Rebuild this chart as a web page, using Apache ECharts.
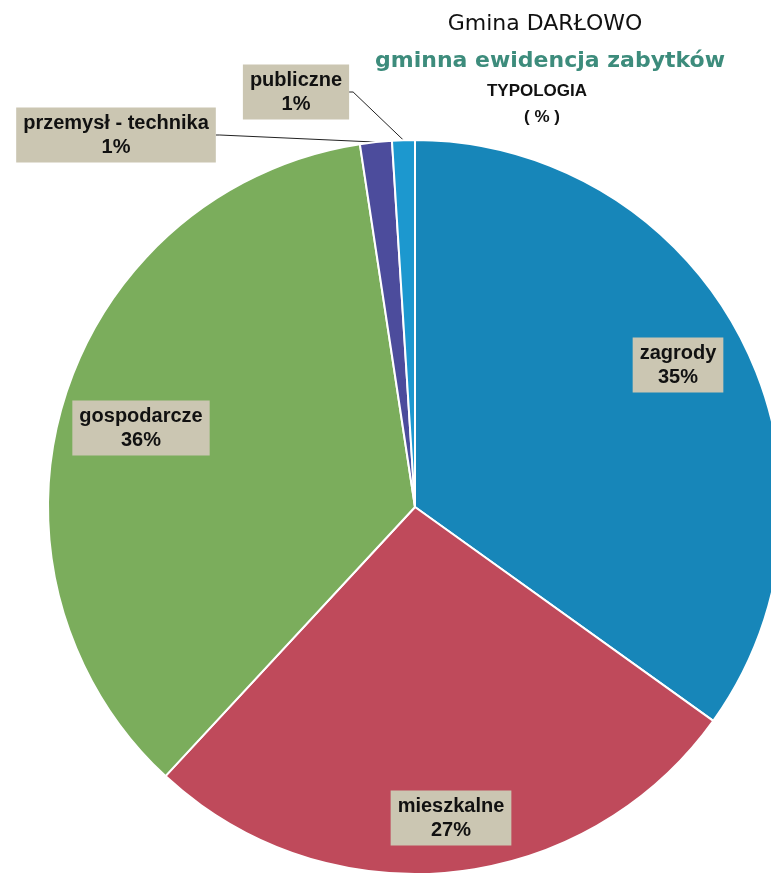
<!DOCTYPE html>
<html><head><meta charset="utf-8">
<script src="https://cdn.jsdelivr.net/npm/echarts@6/dist/echarts.min.js"></script>
<style>html,body{margin:0;padding:0;background:#fff}#c{width:771px;height:876px}</style>
</head><body><div id="c"></div>
<script>
const categories = ['zagrody', 'mieszkalne', 'gospodarcze', 'przemysł - technika', 'publiczne'];
const values = [34.9, 27.0, 35.7, 1.4, 1.0];
const labelTexts = ['35%', '27%', '36%', '1%', '1%'];
const colors = ['#1786b9', '#bf4a5b', '#7bad5c', '#4c4c9c', '#1c98cf'];
const titleLines = ['Gmina DARŁOWO', 'gminna ewidencja zabytków', 'TYPOLOGIA', '( % )'];

const labelPos = [[678, 365], [451, 818], [141, 428], [116, 135], [296, 92]];

const chart = echarts.init(document.getElementById('c'), null, {renderer: 'canvas'});
chart.setOption({
  backgroundColor: '#ffffff',
  animation: false,
  title: [
    {text: titleLines[0], left: 540, top: 8, textAlign: 'center',
     textStyle: {fontFamily: 'DejaVu Sans', fontSize: 22, fontWeight: 500, color: '#111'}},
    {text: titleLines[1], left: 545, top: 45, textAlign: 'center',
     textStyle: {fontFamily: 'DejaVu Sans', fontSize: 22, fontWeight: 'bold', color: '#3d8c7c'}},
    {text: titleLines[2], left: 532, top: 78, textAlign: 'center',
     textStyle: {fontFamily: 'Liberation Sans', fontSize: 17, fontWeight: 'bold', color: '#111'}},
    {text: titleLines[3], left: 537, top: 104, textAlign: 'center',
     textStyle: {fontFamily: 'Liberation Sans', fontSize: 17, fontWeight: 'bold', color: '#111'}}
  ],
  series: [{
    type: 'pie',
    center: [415, 507],
    radius: 367,
    startAngle: 90,
    clockwise: true,
    avoidLabelOverlap: false,
    itemStyle: {borderColor: '#ffffff', borderWidth: 2},
    data: categories.map((c, i) => ({
      name: c, value: values[i],
      itemStyle: {color: colors[i]},
      labelLine: {show: i >= 3, lineStyle: {color: '#222', width: 1}}
    })),
    label: {
      show: true,
      position: 'outside',
      formatter: p => p.name + '\n' + labelTexts[p.dataIndex],
      fontFamily: 'Liberation Sans',
      fontWeight: 'bold',
      fontSize: 20,
      lineHeight: 24,
      color: '#111',
      backgroundColor: '#cbc6b2',
      padding: [4, 7, 3, 7],
      align: 'center'
    },
    labelLine: {show: true, length: 8, length2: 4},
    labelLayout: function (params) {
      const p = labelPos[params.dataIndex];
      return {x: p[0], y: p[1], align: 'center', verticalAlign: 'middle'};
    }
  }]
});
</script></body></html>
